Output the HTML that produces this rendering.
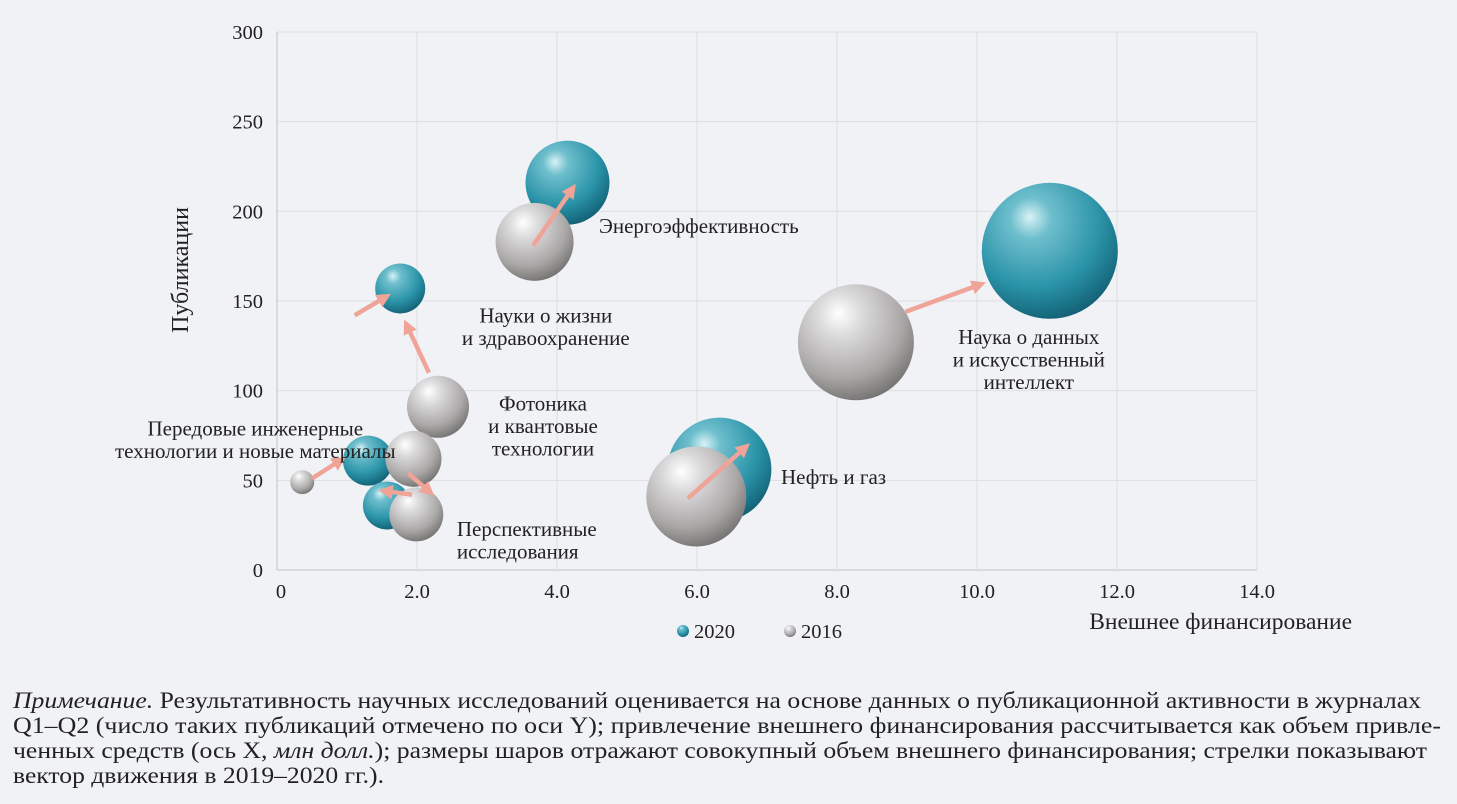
<!DOCTYPE html>
<html><head><meta charset="utf-8"><style>
body{margin:0;background:#f1f2f6;width:1457px;height:804px;overflow:hidden;font-family:"Liberation Serif",serif;color:#222}
</style></head><body>
<svg id="chart" width="1457" height="680" style="position:absolute;left:0;top:0" font-family="Liberation Serif, serif" fill="#222">
<defs>
<radialGradient id="gTeal" cx="0.4" cy="0.3" r="0.75" fx="0.35" fy="0.25">
<stop offset="0" stop-color="#d8f2f5"/><stop offset="0.2" stop-color="#6fbfcd"/><stop offset="0.65" stop-color="#2a93a8"/><stop offset="1" stop-color="#115c70"/></radialGradient>
<radialGradient id="gGray" cx="0.4" cy="0.3" r="0.75" fx="0.35" fy="0.25">
<stop offset="0" stop-color="#ffffff"/><stop offset="0.25" stop-color="#dcdbdb"/><stop offset="0.7" stop-color="#a9a6a6"/><stop offset="1" stop-color="#6f6c6c"/></radialGradient>
<marker id="ah" viewBox="0 0 10 10" refX="5" refY="5" markerWidth="3.2" markerHeight="3.2" orient="auto"><path d="M0,0L10,5L0,10z" fill="#f0a397"/></marker>
</defs>
<g id="grid"></g><g id="bubbles"></g><g id="arrows"></g><g id="labels"></g>
<text transform="translate(188,270) rotate(-90)" text-anchor="middle" font-size="24">Публикации</text>
<text x="1352" y="629" text-anchor="end" font-size="23.5">Внешнее финансирование</text>
<g>
<circle cx="683" cy="631" r="6" fill="url(#gTeal)"/>
<text x="694" y="638" font-size="20.5">2020</text>
<circle cx="790" cy="631" r="6" fill="url(#gGray)"/>
<text x="801" y="638" font-size="20.5">2016</text>
</g>
</svg>
<svg width="1457" height="124" style="position:absolute;left:0;top:680px" font-family="Liberation Serif, serif" font-size="23" fill="#222">
<text x="13" y="28" textLength="1408" lengthAdjust="spacingAndGlyphs"><tspan font-style="italic">Примечание.</tspan> Результативность научных исследований оценивается на основе данных о публикационной активности в журналах</text>
<text x="13" y="53" textLength="1428" lengthAdjust="spacingAndGlyphs">Q1–Q2 (число таких публикаций отмечено по оси Y); привлечение внешнего финансирования рассчитывается как объем привле-</text>
<text x="13" y="78" textLength="1414" lengthAdjust="spacingAndGlyphs">ченных средств (ось X, <tspan font-style="italic">млн долл.</tspan>); размеры шаров отражают совокупный объем внешнего финансирования; стрелки показывают</text>
<text x="13" y="103" textLength="371" lengthAdjust="spacingAndGlyphs">вектор движения в 2019–2020 гг.).</text>
</svg>
<script>
const xTicks=[0,2,4,6,8,10,12,14];
const xTickLabels=["0","2.0","4.0","6.0","8.0","10.0","12.0","14.0"];
const yTicks=[0,50,100,150,200,250,300];
const bubbleX=[4.15,11.04,6.32,1.76,1.30,1.57,3.68,8.27,5.99,2.30,0.36,1.95,1.99];
const bubbleY=[216,178,56,157,61,36,183,127,41,91,49,62,31];
const bubbleR=[42,68,52,25,25,24,39,58,50,31,12,28,27];
const bubbleYear=[2020,2020,2020,2020,2020,2020,2016,2016,2016,2016,2016,2016,2016];
const arrowX1=[3.66,8.98,5.87,1.11,2.17,0.5,1.87,1.93];
const arrowY1=[181,144,40,142,110,51,54,42];
const arrowX2=[4.21,10.03,6.68,1.54,1.86,0.9,2.17,1.55];
const arrowY2=[212,159,68,152,136,61,44,44];
const labelText=[["Энергоэффективность"],["Науки о жизни","и здравоохранение"],["Наука о данных","и искусственный","интеллект"],["Фотоника","и квантовые","технологии"],["Передовые инженерные","технологии и новые материалы"],["Нефть и газ"],["Перспективные","исследования"]];
const labelX=[4.6,3.84,10.74,3.8,-0.31,7.2,2.57];
const labelY=[188,138,126,89,75,48,19];
const labelAnchor=["start","middle","middle","middle","middle","start","start"];
const X=v=>277+v*70, Y=v=>570-v*538/300;
const NS="http://www.w3.org/2000/svg";
function mk(tag,attrs,parent){const e=document.createElementNS(NS,tag);for(const k in attrs)e.setAttribute(k,attrs[k]);parent.appendChild(e);return e;}
const grid=document.getElementById('grid');
yTicks.forEach((t,i)=>{
 const l=mk('line',{x1:X(0),x2:X(14),y1:Y(t),y2:Y(t),stroke:t===0?'#c4c4c8':'#dcdde2','stroke-width':1},grid);
 
 
 const tx=mk('text',{x:263,y:Y(t)+7,'text-anchor':'end','font-size':20.5},grid);tx.textContent=t;
 
 
});
xTicks.forEach((t,i)=>{
 const l=mk('line',{x1:X(t),x2:X(t),y1:Y(0),y2:Y(300),stroke:t===0?'#c4c4c8':'#dcdde2','stroke-width':1},grid);
 
 
 const tx=mk('text',{x:X(t)+(t===0?4:0),y:598,'text-anchor':'middle','font-size':20.5},grid);tx.textContent=xTickLabels[i];
 
 
});
const bg=document.getElementById('bubbles');
bubbleX.forEach((v,i)=>{
 const c=mk('circle',{cx:X(v),cy:Y(bubbleY[i]),r:bubbleR[i],fill:bubbleYear[i]===2020?'url(#gTeal)':'url(#gGray)'},bg);
 
 
});
const ag=document.getElementById('arrows');
arrowX1.forEach((v,i)=>{
 const a=mk('line',{x1:X(v),y1:Y(arrowY1[i]),x2:X(arrowX2[i]),y2:Y(arrowY2[i]),stroke:'#f0a397','stroke-width':4.5,'marker-end':'url(#ah)'},ag);
 
 
});
const lg=document.getElementById('labels');
labelText.forEach((lines,i)=>{
 const t=mk('text',{x:X(labelX[i]),y:Y(labelY[i]),'text-anchor':labelAnchor[i],'font-size':21},lg);
 
 
 lines.forEach((s,j)=>{const sp=mk('tspan',{x:X(labelX[i]),dy:j?22.5:0},t);sp.textContent=s;});
});
</script>
</body></html>
